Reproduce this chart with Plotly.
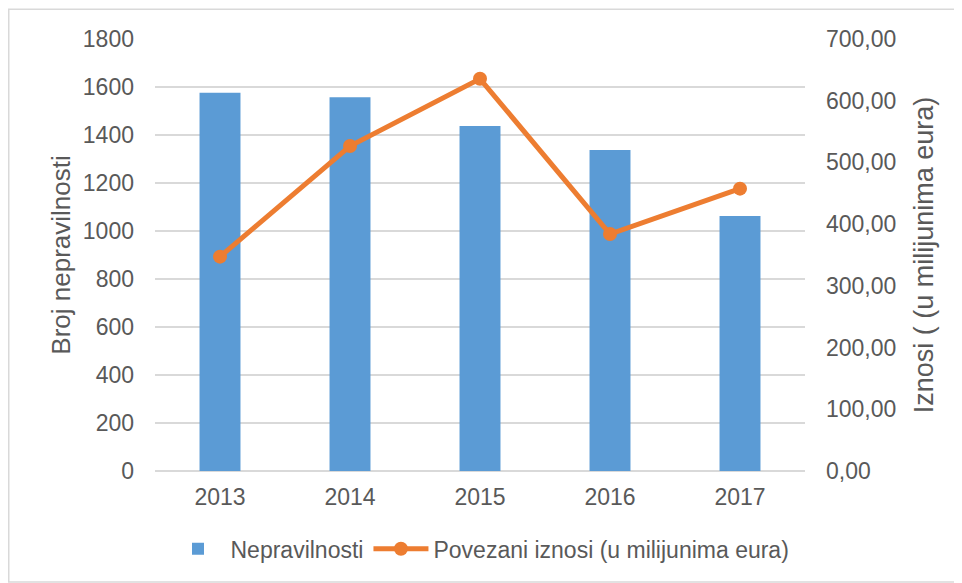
import plotly.graph_objects as go

godine = ["2013", "2014", "2015", "2016", "2017"]
nepravilnosti = [1576, 1557, 1438, 1338, 1063]
iznosi = [347.3, 526.5, 635.5, 384.0, 457.5]

lijevi_ticks = [0, 200, 400, 600, 800, 1000, 1200, 1400, 1600, 1800]
desni_ticks = [0, 100, 200, 300, 400, 500, 600, 700]
desni_labels = ["0,00", "100,00", "200,00", "300,00", "400,00", "500,00", "600,00", "700,00"]

siva = "#595959"
font = dict(family="Liberation Sans, Arial", size=23, color=siva)

fig = go.Figure()
fig.add_trace(go.Bar(x=godine, y=nepravilnosti, name="Nepravilnosti",
                     marker=dict(color="#5B9BD5", line=dict(width=0))))
fig.add_trace(go.Scatter(x=godine, y=iznosi, name="Povezani iznosi (u milijunima eura)",
                         yaxis="y2", mode="lines+markers",
                         line=dict(color="#ED7D31", width=5),
                         marker=dict(color="#ED7D31", size=14)))

# stranica ima 8px margine, pa je figura malo manja
fig.update_layout(
    width=954, height=575,
    margin=dict(l=147, r=157, t=31, b=112),
    paper_bgcolor="white", plot_bgcolor="white",
    font=font,
    bargap=0.685,
    showlegend=True,
    legend=dict(orientation="h", x=0.5, xanchor="center", y=-0.18, yanchor="middle",
                font=dict(size=23, color=siva), itemwidth=55, traceorder="normal"),
    xaxis=dict(showgrid=False, showline=False, ticks="", ticklabelstandoff=10,
               automargin=False, tickfont=dict(size=23, color=siva)),
    yaxis=dict(range=[0, 1800], tickvals=lijevi_ticks, showgrid=True, automargin=False,
               gridcolor="#D9D9D9", gridwidth=1.5, zeroline=True, zerolinecolor="#D9D9D9",
               zerolinewidth=1.5, ticks="", ticklabelstandoff=20,
               tickfont=dict(size=23, color=siva),
               title=dict(text="Broj nepravilnosti", font=dict(size=26, color=siva), standoff=4)),
    yaxis2=dict(range=[0, 700], tickvals=desni_ticks, ticktext=desni_labels, automargin=False,
                overlaying="y", side="right", showgrid=False, zeroline=False,
                ticks="", ticklabelstandoff=20, tickfont=dict(size=23, color=siva),
                title=dict(text="Iznosi ( (u milijunima eura)", font=dict(size=27, color=siva),
                           standoff=18)),
    shapes=[dict(type="rect", xref="paper", yref="paper",
                 x0=-0.225, x1=1.24, y0=-0.257, y1=1.069,
                 line=dict(color="#D9D9D9", width=1.5), layer="below")],
)

fig.write_html("out.html")
